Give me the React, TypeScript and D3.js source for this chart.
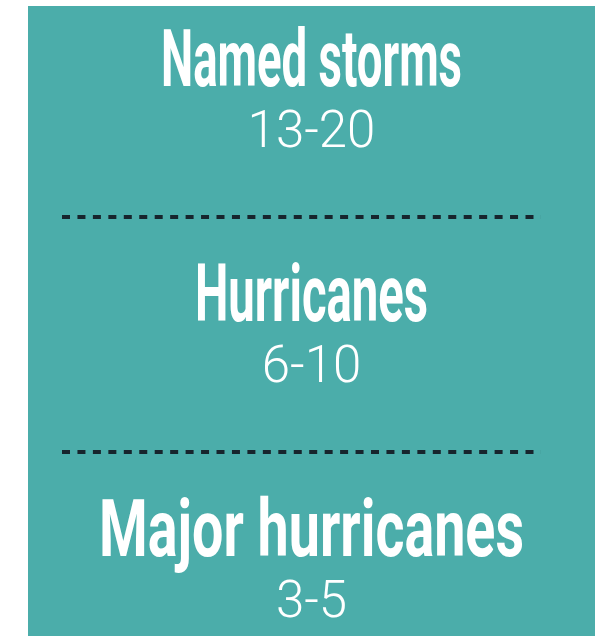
import React, { useRef, useEffect } from "react";
import * as d3 from "d3";

// storm outlook
const categories = ["Named storms", "Hurricanes", "Major hurricanes"];
const rangeLow = [13, 6, 3];
const rangeHigh = [20, 10, 5];

// headline widths (condensed face is faked with textLength)
const headlineWidth: Record<string, number> = {
  "Named storms": 301,
  Hurricanes: 233,
  "Major hurricanes": 425,
};

const App = () => {
  const svgRef = useRef<SVGSVGElement>(null);

  useEffect(() => {
    const width = 605;
    const height = 636;
    const panel = { x0: 28, x1: 595, y0: 6, y1: 636 };
    const cx = (panel.x0 + panel.x1) / 2;

    const svg = d3.select(svgRef.current);
    svg.selectAll("*").remove();
    svg.attr("width", width).attr("height", height);

    svg
      .append("rect")
      .attr("x", panel.x0)
      .attr("y", panel.y0)
      .attr("width", panel.x1 - panel.x0)
      .attr("height", panel.y1 - panel.y0)
      .attr("fill", "#4badaa");

    // header baselines for each block
    const y = d3.scalePoint().domain(categories).range([86, 556]);
    const step = y.step();

    const g = svg
      .selectAll("g.block")
      .data(categories)
      .join("g")
      .attr("class", "block")
      .attr("transform", (d) => `translate(0,${y(d)})`);

    g.append("text")
      .attr("x", cx)
      .attr("text-anchor", "middle")
      .attr("font-family", "Roboto, sans-serif")
      .attr("font-weight", 700)
      .attr("font-size", 80)
      .attr("fill", "#ffffff")
      .attr("textLength", (d) => headlineWidth[d])
      .attr("lengthAdjust", "spacingAndGlyphs")
      .text((d) => d);

    g.append("text")
      .attr("x", cx)
      .attr("y", 61)
      .attr("text-anchor", "middle")
      .attr("font-family", "Roboto, sans-serif")
      .attr("font-weight", 300)
      .attr("font-size", 51)
      .attr("fill", "#ffffff")
      .text((d, i) => `${rangeLow[i]}-${rangeHigh[i]}`);

    // dashed dividers between blocks
    svg
      .selectAll("line.divider")
      .data(categories.slice(0, -1))
      .join("line")
      .attr("class", "divider")
      .attr("x1", 62)
      .attr("x2", 541)
      .attr("y1", (d) => y(d)! + step * 0.557)
      .attr("y2", (d) => y(d)! + step * 0.557)
      .attr("stroke", "#17252d")
      .attr("stroke-width", 4)
      .attr("stroke-dasharray", "8 7.45");
  }, []);

  return (
    <svg
      ref={svgRef}
      style={{ position: "absolute", left: 0, top: 0, display: "block" }}
    ></svg>
  );
};

export default App;
